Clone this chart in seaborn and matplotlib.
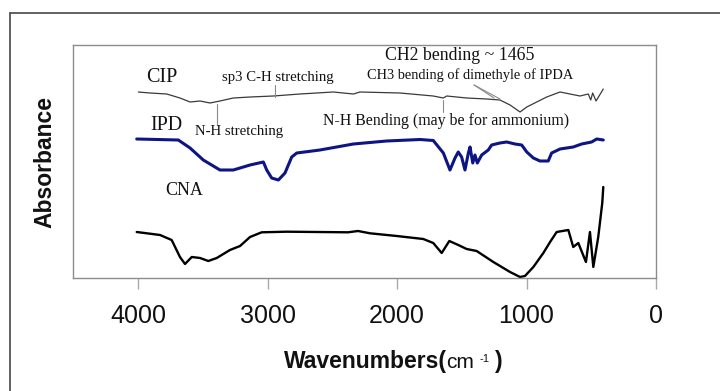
import matplotlib
matplotlib.use("Agg")
import matplotlib.pyplot as plt
import seaborn as sns
import pandas as pd

# ---------------- data ----------------
cip_wn = [3997, 3907, 3778, 3676, 3598, 3521, 3444, 3367, 3264, 3135, 2955, 2749,
          2492, 2337, 2286, 1977, 1720, 1642, 1616, 1462, 1307, 1205, 1127, 1050,
          998, 921, 844, 741, 664, 587, 523, 504, 489, 463, 407]
cip_abs = [186, 185, 184, 180, 176, 177, 175, 177, 180, 181, 182, 184,
           186, 184, 186, 185, 182, 180, 182, 180, 179, 178, 173, 166,
           171, 176, 181, 186, 184, 182, 184, 178, 185, 177, 189]

ipd_wn = [4010, 3689, 3598, 3496, 3367, 3264, 3135, 3032, 3006, 2968, 2916, 2865,
          2813, 2774, 2595, 2337, 2080, 1822, 1720, 1642, 1591, 1552, 1527, 1501,
          1475, 1449, 1436, 1415, 1398, 1380, 1346, 1295, 1269, 1205, 1153, 1089,
          1037, 998, 947, 896, 832, 806, 741, 639, 574, 497, 458, 407]
ipd_abs = [139, 138, 130, 118, 108, 108, 113, 116, 108, 100, 98, 105,
           121, 125, 128, 134, 137, 138.5, 137.5, 125, 108, 120, 126, 121,
           108, 125, 131, 115, 123, 115, 123, 128, 133, 135, 136, 134,
           133, 126, 120, 117, 117, 125, 129, 131, 134, 136, 139, 138]

cna_wn = [4010, 3830, 3740, 3676, 3637, 3585, 3521, 3457, 3392, 3290, 3212, 3135,
          3045, 2852, 2378, 2301, 2208, 2002, 1797, 1720, 1655, 1596, 1527, 1462,
          1385, 1256, 1127, 1050, 1012, 947, 870, 818, 767, 677, 639, 600,
          541, 510, 484, 446, 415, 407]
cna_abs = [46, 43, 38, 21, 14, 21, 20, 17, 20, 28, 32, 41,
           45.7, 46.3, 45.7, 47, 44.7, 42, 39, 35, 25, 37, 33, 29,
           27, 16, 6, 1, 2, 11, 25, 36, 46, 48, 31, 35,
           16, 46, 11, 41, 75, 91]

x_ticks = [4000, 3000, 2000, 1000, 0]
x_tick_labels = ["4000", "3000", "2000", "1000", "0"]

# ---------------- figure ----------------
sns.set_theme(style="white")
plt.rcParams["font.family"] = ["Liberation Sans", "DejaVu Sans"]

W, H = 720, 391
fig = plt.figure(figsize=(7.2, 3.91), dpi=100)
fig.patch.set_facecolor("white")
ax = fig.add_axes([73 / W, (H - 278) / H, (656 - 73) / W, 233 / H])

df_cip = pd.DataFrame({"wn": cip_wn, "abs": cip_abs})
df_ipd = pd.DataFrame({"wn": ipd_wn, "abs": ipd_abs})
df_cna = pd.DataFrame({"wn": cna_wn, "abs": cna_abs})

sns.lineplot(data=df_cip, x="wn", y="abs", ax=ax, color="#3a3a3a", lw=0.9,
             estimator=None, sort=False)
sns.lineplot(data=df_ipd, x="wn", y="abs", ax=ax, color="#0d1585", lw=2.2,
             estimator=None, sort=False)
sns.lineplot(data=df_cna, x="wn", y="abs", ax=ax, color="#000000", lw=1.7,
             estimator=None, sort=False)

ax.set_xlim(4502, 0)
ax.set_ylim(0, 233)
ax.set_xticks(x_ticks)
ax.set_xticklabels(x_tick_labels, fontsize=18, color="#111111")
ax.set_yticks([])
ax.set_xlabel("")
ax.set_ylabel("")
ax.tick_params(axis="x", direction="out", length=8, width=1, color="#aaaaaa",
               pad=10.5, bottom=True)
for s in ax.spines.values():
    s.set_color("#8c8c8c")
    s.set_linewidth(1.0)
    s.set_visible(True)

# ---------------- annotations ----------------
serif = ["Liberation Serif", "DejaVu Serif"]
tc = "#111111"
ax.text(3938, 200, "CIP", family=serif, fontsize=14.5, color=tc, va="center", ha="left")
ax.text(3907, 152, "IPD", family=serif, fontsize=14.5, color=tc, va="center", ha="left")
ax.text(3792, 87.5, "CNA", family=serif, fontsize=13, color=tc, va="center", ha="left")
ax.text(3354, 201, "sp3 C-H stretching", family=serif, fontsize=10.6, color=tc,
        va="center", ha="left")
ax.text(3560, 146, "N-H stretching", family=serif, fontsize=10.6, color=tc,
        va="center", ha="left")
ax.text(2574, 157, "N-H Bending (may be for ammonium)", family=serif, fontsize=11.4,
        color=tc, va="center", ha="left")
ax.text(2093, 222, "CH2 bending ~ 1465", family=serif, fontsize=12.8, color=tc,
        va="center", ha="left")
ax.text(2234, 203, "CH3 bending of dimethyle of IPDA", family=serif, fontsize=10.4,
        color=tc, va="center", ha="left")

pc = "#8a8a8a"
ax.plot([2942, 2942], [193, 181], color=pc, lw=0.8)
ax.plot([3392, 3392], [174, 153], color=pc, lw=0.8)
ax.plot([1642, 1642], [178, 166], color=pc, lw=0.8)
ax.plot([1405, 1205], [193, 179], color=pc, lw=0.8)
ax.plot([1405, 1251], [193, 180], color=pc, lw=0.8)

# ---------------- axis labels ----------------
def fx(px):
    return px / W

def fy(py):
    return 1 - py / H

fig.text(fx(447), fy(368.3), "Wavenumbers(", fontsize=16.5, fontweight="bold",
         ha="right", va="baseline", color=tc)
fig.text(fx(446), fy(368.3), "cm", fontsize=15, ha="left", va="baseline", color=tc)
fig.text(fx(480), fy(361.5), "-1", fontsize=8, ha="left", va="baseline", color=tc)
fig.text(fx(495), fy(368.3), ")", fontsize=16.5, fontweight="bold",
         ha="left", va="baseline", color=tc)
fig.text(fx(45), fy(161.5), "Absorbance", fontsize=16.5, fontweight="bold",
         rotation=90, ha="center", va="center", color=tc)

# outer frame (left and top edges visible)
fig.add_artist(plt.Line2D([fx(10), fx(10)], [fy(13), 0], color="#555555", lw=1.3))
fig.add_artist(plt.Line2D([fx(10), 1], [fy(13), fy(13)], color="#555555", lw=1.3))

fig.savefig("out.png", dpi=100)
